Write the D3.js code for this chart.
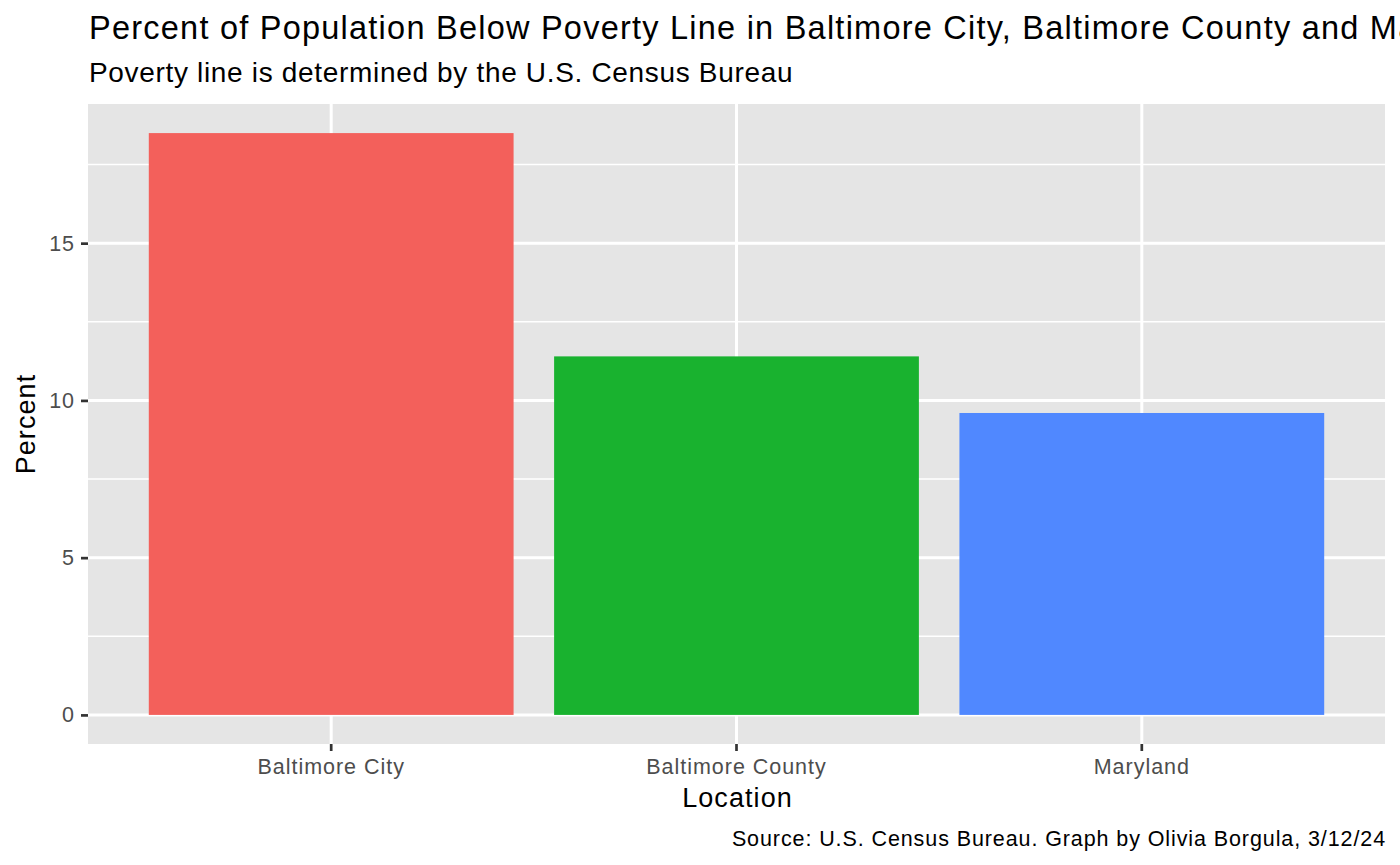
<!DOCTYPE html>
<html>
<head>
<meta charset="utf-8">
<script src="https://cdn.jsdelivr.net/npm/d3@7"></script>
<style>
  html, body { margin: 0; padding: 0; background: #fff; overflow: hidden; }
  svg { display: block; font-family: "Liberation Sans", Arial, Helvetica, sans-serif; }
</style>
</head>
<body>
<svg id="chart" width="1400" height="865"></svg>
<script>
const categories = ["Baltimore City", "Baltimore County", "Maryland"];
const percentValues = [18.5, 11.4, 9.6];
const barColors = ["#F3605B", "#19B22F", "#5088FF"];
const yMajorTicks = [0, 5, 10, 15];
const yMinorTicks = [2.5, 7.5, 12.5, 17.5];
const titleText = "Percent of Population Below Poverty Line in Baltimore City, Baltimore County and Maryland";
const subtitleText = "Poverty line is determined by the U.S. Census Bureau";
const xTitle = "Location";
const yTitle = "Percent";
const captionText = "Source: U.S. Census Bureau. Graph by Olivia Borgula, 3/12/24";

const svg = d3.select("#chart");
const panel = { left: 88, right: 1385, top: 104, bottom: 744 };

const maxV = d3.max(percentValues);
const pad = 0.05 * maxV;
const y = d3.scaleLinear().domain([0 - pad, maxV + pad]).range([panel.bottom, panel.top]);
const x = d3.scaleBand().domain(categories).range([panel.left, panel.right])
  .paddingInner(0.1).paddingOuter(0.15);

// panel background
svg.append("rect")
  .attr("x", panel.left).attr("y", panel.top)
  .attr("width", panel.right - panel.left).attr("height", panel.bottom - panel.top)
  .attr("fill", "#E5E5E5");

// minor grid
svg.append("g").selectAll("line").data(yMinorTicks).join("line")
  .attr("x1", panel.left).attr("x2", panel.right)
  .attr("y1", d => y(d)).attr("y2", d => y(d))
  .attr("stroke", "#fff").attr("stroke-width", 1.5);

// major grid
svg.append("g").selectAll("line").data(yMajorTicks).join("line")
  .attr("x1", panel.left).attr("x2", panel.right)
  .attr("y1", d => y(d)).attr("y2", d => y(d))
  .attr("stroke", "#fff").attr("stroke-width", 3);
svg.append("g").selectAll("line").data(categories).join("line")
  .attr("x1", d => x(d) + x.bandwidth() / 2).attr("x2", d => x(d) + x.bandwidth() / 2)
  .attr("y1", panel.top).attr("y2", panel.bottom)
  .attr("stroke", "#fff").attr("stroke-width", 3);

// bars
svg.append("g").selectAll("rect").data(categories).join("rect")
  .attr("x", d => x(d))
  .attr("width", x.bandwidth())
  .attr("y", (d, i) => y(percentValues[i]))
  .attr("height", (d, i) => y(0) - y(percentValues[i]))
  .attr("fill", (d, i) => barColors[i]);

// y axis
const yAxis = d3.axisLeft(y).tickValues(yMajorTicks).tickSize(7).tickPadding(6).tickFormat(d3.format("d"));
const gy = svg.append("g").attr("transform", `translate(${panel.left},0)`).call(yAxis);
gy.select(".domain").remove();
gy.selectAll(".tick line").attr("stroke", "#333333").attr("stroke-width", 2.7);
gy.selectAll(".tick text").attr("fill", "#4D4D4D").style("font-size", "21.5px")
  .style("letter-spacing", "0.045em")
  .style("font-family", "'Liberation Sans', Arial, sans-serif");

// x axis
const xAxis = d3.axisBottom(x).tickSize(7).tickPadding(8);
const gx = svg.append("g").attr("transform", `translate(0,${panel.bottom})`).call(xAxis);
gx.select(".domain").remove();
gx.selectAll(".tick line").attr("stroke", "#333333").attr("stroke-width", 2.7);
gx.selectAll(".tick text").attr("fill", "#4D4D4D").style("font-size", "21.5px")
  .style("letter-spacing", "0.045em")
  .style("font-family", "'Liberation Sans', Arial, sans-serif");

// titles
svg.append("text").attr("x", 89).attr("y", 38.5).attr("fill", "#000")
  .style("font-size", "32.5px").style("letter-spacing", "0.038em").text(titleText);
svg.append("text").attr("x", 89).attr("y", 82).attr("fill", "#000")
  .style("font-size", "28px").style("letter-spacing", "0.024em").text(subtitleText);

svg.append("text").attr("x", (panel.left + panel.right) / 2 + 1).attr("y", 807)
  .attr("text-anchor", "middle").attr("fill", "#000").style("font-size", "27px")
  .style("letter-spacing", "0.04em").text(xTitle);

svg.append("text").attr("transform", `translate(35,${(panel.top + panel.bottom) / 2}) rotate(-90)`)
  .attr("text-anchor", "middle").attr("fill", "#000").style("font-size", "27px")
  .style("letter-spacing", "0.04em").text(yTitle);

svg.append("text").attr("x", panel.right + 1).attr("y", 846)
  .attr("text-anchor", "end").attr("fill", "#000").style("font-size", "21.5px")
  .style("letter-spacing", "0.042em").text(captionText);
</script>
</body>
</html>
